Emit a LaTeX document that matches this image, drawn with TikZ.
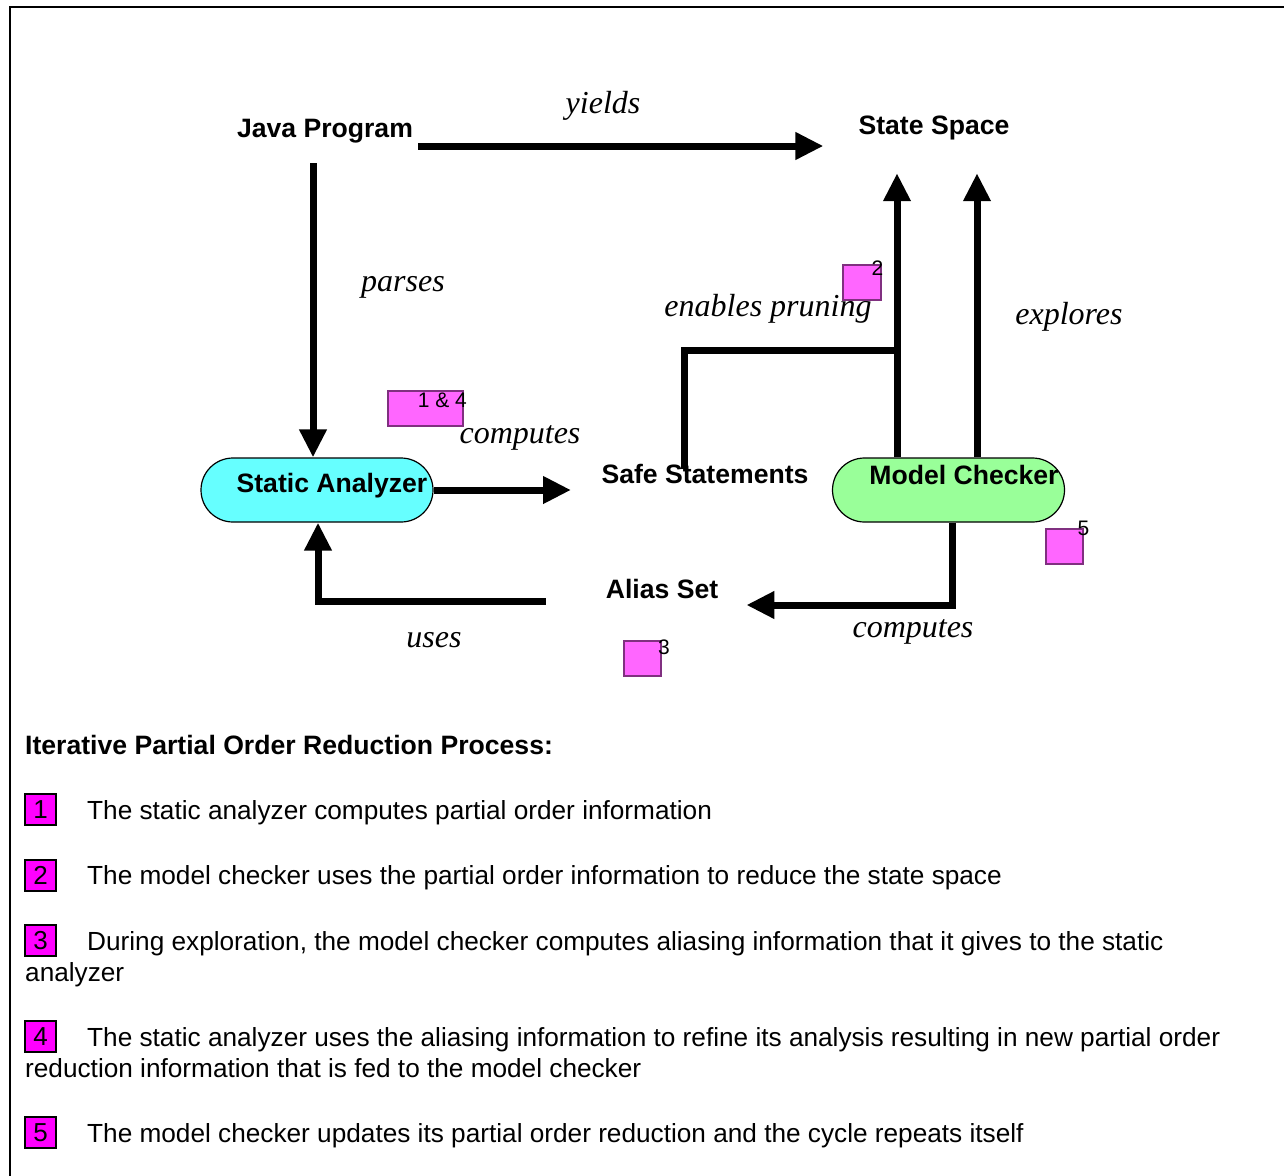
\documentclass[tikz,border=0pt]{standalone}
\usepackage{fontspec}
\setmainfont{Liberation Serif}
\setsansfont{Liberation Sans}
\usetikzlibrary{arrows.meta}
\definecolor{cyanfill}{RGB}{102,255,255}
\definecolor{greenfill}{RGB}{153,255,153}
\definecolor{tagfill}{RGB}{255,102,255}
\definecolor{tagline}{RGB}{128,48,128}
\definecolor{keyfill}{RGB}{255,0,255}
\tikzset{
  heading/.style={font=\fontsize{26.6}{31}\selectfont\sffamily\bfseries, inner sep=0pt},
  verb/.style={font=\fontsize{32}{38}\selectfont\itshape, inner sep=0pt},
  flow/.style={line width=7pt, -{Triangle[length=28pt,width=26pt]}},
  bar/.style={line width=7pt},
  capsule/.style={draw, line width=1.2pt, rounded corners=32pt, minimum width=232pt, minimum height=64pt, inner sep=0pt},
  tag/.style={draw=tagline, fill=tagfill, line width=1.5pt, inner sep=0pt},
  tagnum/.style={font=\fontsize{21}{25}\selectfont\sffamily, inner sep=0pt},
  keybox/.style={draw, fill=keyfill, line width=2pt, minimum size=31pt, inner sep=0pt, font=\fontsize{26}{31}\selectfont\sffamily},
  body/.style={font=\fontsize{26.2}{31}\selectfont\sffamily, inner sep=0pt, anchor=base west}
}
\begin{document}
\begin{tikzpicture}[x=1pt,y=-1pt]
\clip (0,0) rectangle (1284,1175);
\fill[white] (0,0) rectangle (1284,1175);
% outer frame
\draw[line width=2.5pt] (10,1200) -- (10,7) -- (1300,7);

% main entities
\node[heading] (jp) at (325,131) {Java Program};
\node[heading] (sspace) at (934,128) {State Space};
\node[capsule, fill=cyanfill] (sa) at (317,490) {};
\node[heading] (satext) at (332,486) {Static Analyzer};
\node[capsule, fill=greenfill] (mc) at (948.5,490) {};
\node[heading] (mctext) at (964,475) {Model Checker};
\node[heading] (alias) at (662,589) {Alias Set};

% relation labels
\node[verb] (lyields) at (603,106) {yields};
\node[verb] (lparses) at (403,287) {parses};
\node[verb] (lcomp1) at (520,438) {computes};
\node[verb] (lprune) at (768,309) {enables pruning};
\node[verb] (lexpl) at (1069,317) {explores};
\node[verb] (lcomp2) at (913,632) {computes};
\node[verb] (luses) at (434,640) {uses};

% connectors
\coordinate (prune) at (897,350);
\draw[flow, shorten <=5pt, shorten >=35pt] ([yshift=-15pt]jp.east) -- ([yshift=-15pt]jp.east -| sspace.west);
\draw[flow, shorten <=20pt] ([xshift=-4pt]sa.north |- jp.south) -- ([xshift=-4pt]sa.north);
\draw[flow, shorten >=32pt] (sa.east) -- (sa.east -| 603,0);
\draw[flow, shorten >=33pt] ([xshift=-51.5pt]mc.north) -- ([xshift=-51.5pt]mc.north |- sspace.south);
\draw[flow, shorten >=33pt] ([xshift=28.5pt]mc.north) -- ([xshift=28.5pt]mc.north |- sspace.south);
\draw[flow] ([xshift=3.5pt]mc.south) |- ([xshift=28pt,yshift=-16pt]alias.east);
\draw[flow] ([xshift=-60pt,yshift=-12pt]alias.west) -| ([xshift=1pt]sa.south);

\node[heading] (safe) at (705,474) {Safe Statements};
\draw[bar] ([xshift=-21pt,yshift=-5pt]safe.north) |- (prune);

% step tags
\node[tag, minimum width=75pt, minimum height=35pt] (t14) at (425.5,408.5) {};
\node[tagnum, anchor=east] (n14) at (467,400) {1 \& 4};
\node[tag, minimum width=38pt, minimum height=35pt] (t2) at (862,282.5) {};
\node[tagnum] (n2) at (877.5,268) {2};
\node[tag, minimum width=37pt, minimum height=35pt] (t3) at (642.5,658.5) {};
\node[tagnum] (n3) at (664,647) {3};
\node[tag, minimum width=37pt, minimum height=35pt] (t5) at (1064.5,546.5) {};
\node[tagnum] (n5) at (1083.5,528) {5};

% legend
\node[heading, anchor=base west] (hdr) at (25,754) {Iterative Partial Order Reduction Process:};
\node[keybox] (k1) at (40.5,809.5) {1};
\node[body] (d1) at (87,819) {The static analyzer computes partial order information};
\node[keybox] (k2) at (40.5,875) {2};
\node[body] (d2) at (87,884) {The model checker uses the partial order information to reduce the state space};
\node[keybox] (k3) at (40.5,940.5) {3};
\node[body] (d3) at (87,950) {During exploration, the model checker computes aliasing information that it gives to the static};
\node[body] (d3b) at (25,981) {analyzer};
\node[keybox] (k4) at (40.5,1036.5) {4};
\node[body] (d4) at (87,1046) {The static analyzer uses the aliasing information to refine its analysis resulting in new partial order};
\node[body] (d4b) at (25,1077) {reduction information that is fed to the model checker};
\node[keybox] (k5) at (40.5,1132.5) {5};
\node[body] (d5) at (87,1142) {The model checker updates its partial order reduction and the cycle repeats itself};
\end{tikzpicture}
\end{document}
